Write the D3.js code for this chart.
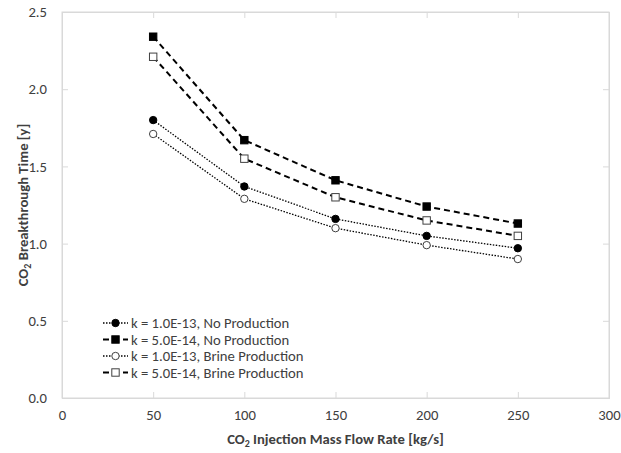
<!DOCTYPE html>
<html>
<head>
<meta charset="utf-8">
<script src="https://cdn.jsdelivr.net/npm/d3@7"></script>
<style>
  body { margin: 0; background: #fff; }
  text { font-family: Carlito, Lato, "Open Sans", sans-serif; fill: #404040; }
</style>
</head>
<body>
<svg id="chart" width="621" height="453"></svg>
<script>
// injection rate [kg/s]
const rates = [50, 100, 150, 200, 250];

// breakthrough time [y]
const k13NoProd = [1.80, 1.37, 1.16, 1.05, 0.97];
const k14NoProd = [2.34, 1.67, 1.41, 1.24, 1.13];
const k13Brine = [1.71, 1.29, 1.10, 0.99, 0.90];
const k14Brine = [2.21, 1.55, 1.30, 1.15, 1.05];

const seriesNames = [
    'k = 1.0E-13, No Production',
    'k = 5.0E-14, No Production',
    'k = 1.0E-13, Brine Production',
    'k = 5.0E-14, Brine Production',
];

const xTicks = [0, 50, 100, 150, 200, 250, 300];
const yTicks = [0, 0.5, 1.0, 1.5, 2.0, 2.5];

const svg = d3.select('#chart');
const m = { left: 62, right: 12, top: 12, bottom: 55 };
const W = 621, H = 453;
const fs = 14.67; // 11pt

const x = d3.scaleLinear().domain([0, 300]).range([m.left, W - m.right]);
const y = d3.scaleLinear().domain([0, 2.5]).range([H - m.bottom, m.top]);

// plot frame
svg.append('rect')
    .attr('x', x(0)).attr('y', y(2.5))
    .attr('width', x(300) - x(0)).attr('height', y(0) - y(2.5))
    .attr('fill', 'none').attr('stroke', '#d9d9d9');

// bottom and left axes, ticks inside
const xAxis = svg.append('g').attr('transform', `translate(0,${y(0)})`)
    .call(d3.axisBottom(x).tickValues(xTicks).tickSize(-6).tickPadding(12).tickFormat(d3.format('d')));
const yAxis = svg.append('g').attr('transform', `translate(${x(0)},0)`)
    .call(d3.axisLeft(y).tickValues(yTicks).tickSize(-6).tickPadding(15).tickFormat(d3.format('.1f')));
// mirrored ticks on top and right
const xTop = svg.append('g').attr('transform', `translate(0,${y(2.5)})`)
    .call(d3.axisTop(x).tickValues(xTicks).tickSize(-6).tickFormat(''));
const yRight = svg.append('g').attr('transform', `translate(${x(300)},0)`)
    .call(d3.axisRight(y).tickValues(yTicks).tickSize(-6).tickFormat(''));

[xAxis, yAxis, xTop, yRight].forEach(g => {
    g.select('.domain').attr('stroke', '#d9d9d9');
    g.selectAll('.tick line').attr('stroke', '#d9d9d9');
    g.selectAll('.tick text').attr('font-size', fs).attr('fill', '#595959')
        .style('font-family', 'Carlito, Lato, sans-serif');
});

// axis titles
const xt = svg.append('text')
    .attr('x', (x(0) + x(300)) / 2).attr('y', 444)
    .attr('text-anchor', 'middle').attr('font-size', fs).attr('font-weight', 'bold');
xt.append('tspan').text('CO');
xt.append('tspan').text('2').attr('font-size', 10).attr('dy', 3);
xt.append('tspan').text(' Injection Mass Flow Rate [kg/s]').attr('dy', -3);

const yt = svg.append('text')
    .attr('transform', `translate(28,${(y(0) + y(2.5)) / 2}) rotate(-90)`)
    .attr('text-anchor', 'middle').attr('font-size', fs).attr('font-weight', 'bold');
yt.append('tspan').text('CO');
yt.append('tspan').text('2').attr('font-size', 10).attr('dy', 3);
yt.append('tspan').text(' Breakthrough Time [y]').attr('dy', -3);

// series
const series = [
    { name: seriesNames[0], values: k13NoProd, shape: 'circle', fill: '#000', dash: '1.5,1.5', width: 1.3 },
    { name: seriesNames[1], values: k14NoProd, shape: 'square', fill: '#000', dash: '6,4', width: 2 },
    { name: seriesNames[2], values: k13Brine, shape: 'circle', fill: '#fff', dash: '1.5,1.5', width: 1.3 },
    { name: seriesNames[3], values: k14Brine, shape: 'square', fill: '#fff', dash: '6,4', width: 2 },
];

const line = d3.line().x(d => x(d[0])).y(d => y(d[1]));

function drawMarker(g, s, cx, cy) {
    const stroke = s.fill === '#000' ? '#000' : '#404040';
    if (s.shape === 'circle') {
        g.append('circle').attr('cx', cx).attr('cy', cy).attr('r', 3.7)
            .attr('fill', s.fill).attr('stroke', stroke).attr('stroke-width', 1);
    } else {
        g.append('rect').attr('x', cx - 3.7).attr('y', cy - 3.7).attr('width', 7.4).attr('height', 7.4)
            .attr('fill', s.fill).attr('stroke', stroke).attr('stroke-width', 1);
    }
}

series.forEach(s => {
    const pts = rates.map((r, i) => [r, s.values[i]]);
    const g = svg.append('g');
    g.append('path').datum(pts).attr('d', line)
        .attr('fill', 'none').attr('stroke', '#000')
        .attr('stroke-width', s.width).attr('stroke-dasharray', s.dash);
    pts.forEach(p => drawMarker(g, s, x(p[0]), y(p[1])));
});

// legend
const lg = svg.append('g');
series.forEach((s, i) => {
    const ly = 323 + i * 16.5;
    lg.append('line').attr('x1', 103).attr('x2', 128).attr('y1', ly).attr('y2', ly)
        .attr('stroke', '#000').attr('stroke-width', s.width).attr('stroke-dasharray', s.dash);
    drawMarker(lg, s, 115.5, ly);
    lg.append('text').attr('x', 131).attr('y', ly).attr('dy', '0.35em')
        .attr('font-size', fs).attr('fill', '#404040').text(s.name);
});
</script>
</body>
</html>
